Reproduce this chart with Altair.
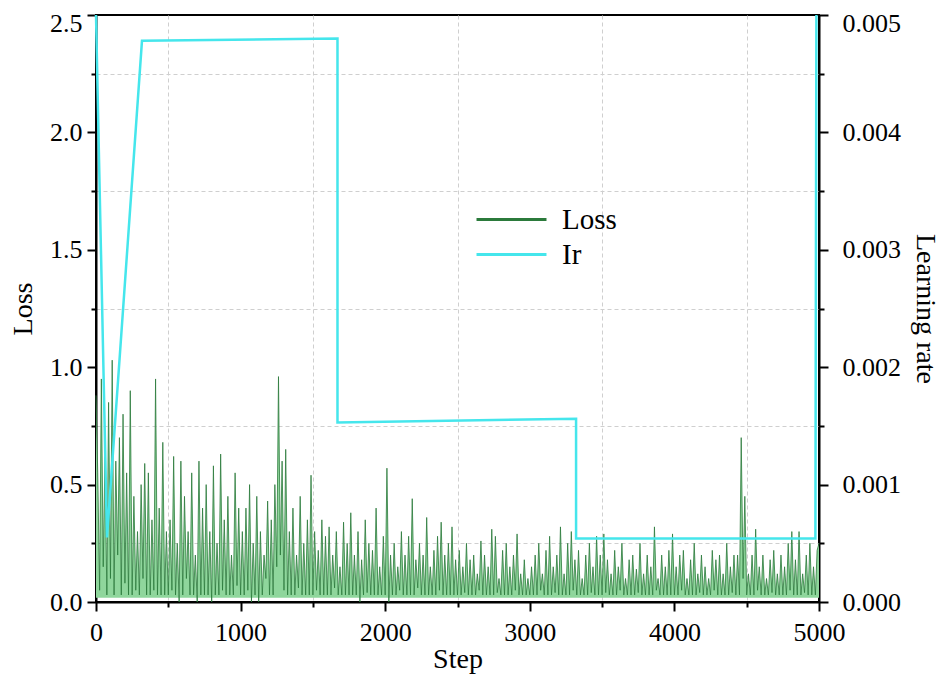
import altair as alt
import pandas as pd

# ---- data ----
peak_heights = [
    0.55, 0.95, 0.62, 0.85, 1.03, 0.60, 0.70, 0.80, 0.55, 0.90, 0.45, 0.30, 0.50, 0.59, 0.55, 0.35, 0.95, 0.40, 0.68, 0.30,
    0.35, 0.62, 0.25, 0.60, 0.45, 0.30, 0.55, 0.20, 0.60, 0.40, 0.50, 0.30, 0.58, 0.25, 0.63, 0.35, 0.45, 0.20, 0.55, 0.40,
    0.30, 0.40, 0.50, 0.25, 0.45, 0.30, 0.20, 0.43, 0.35, 0.50, 0.96, 0.60, 0.65, 0.30, 0.40, 0.20, 0.45, 0.25, 0.35, 0.54,
    0.30, 0.22, 0.35, 0.28, 0.32, 0.20, 0.30, 0.15, 0.34, 0.25, 0.38, 0.20, 0.30, 0.18, 0.35, 0.25, 0.22, 0.40, 0.15, 0.28,
    0.57, 0.20, 0.25, 0.15, 0.30, 0.20, 0.28, 0.44, 0.18, 0.25, 0.20, 0.36, 0.15, 0.22, 0.28, 0.34, 0.20, 0.25, 0.32, 0.18,
    0.22, 0.15, 0.25, 0.18, 0.20, 0.12, 0.26, 0.20, 0.15, 0.31, 0.28, 0.10, 0.22, 0.25, 0.15, 0.20, 0.29, 0.12, 0.18, 0.10,
    0.15, 0.20, 0.25, 0.12, 0.22, 0.28, 0.15, 0.20, 0.32, 0.12, 0.25, 0.30, 0.18, 0.22, 0.10, 0.20, 0.25, 0.15, 0.28, 0.20,
    0.29, 0.18, 0.12, 0.22, 0.15, 0.25, 0.10, 0.18, 0.20, 0.14, 0.25, 0.12, 0.20, 0.15, 0.32, 0.10, 0.20, 0.15, 0.22, 0.29,
    0.15, 0.20, 0.22, 0.10, 0.18, 0.25, 0.12, 0.20, 0.15, 0.10, 0.22, 0.18, 0.20, 0.12, 0.25, 0.15, 0.20, 0.20, 0.70, 0.45,
    0.12, 0.20, 0.31, 0.15, 0.20, 0.10, 0.18, 0.22, 0.12, 0.20, 0.15, 0.25, 0.30, 0.18, 0.30, 0.12, 0.20, 0.25, 0.15, 0.22,
]
valley_heights = [
    0.88, 0.05, 0.15, 0.03, 0.10, 0.03, 0.20, 0.03, 0.08, 0.03, 0.03, 0.05, 0.03, 0.10, 0.03, 0.03, 0.05, 0.03, 0.03, 0.03,
    0.03, 0.05, 0.03, 0.00, 0.03, 0.10, 0.03, 0.03, 0.00, 0.03, 0.03, 0.03, 0.00, 0.03, 0.03, 0.05, 0.03, 0.03, 0.03, 0.07,
    0.03, 0.03, 0.05, 0.00, 0.03, 0.00, 0.03, 0.10, 0.03, 0.03, 0.15, 0.20, 0.05, 0.03, 0.03, 0.03, 0.06, 0.03, 0.03, 0.03,
    0.03, 0.05, 0.03, 0.03, 0.03, 0.03, 0.06, 0.03, 0.03, 0.03, 0.03, 0.03, 0.03, 0.00, 0.03, 0.04, 0.03, 0.03, 0.03, 0.03,
    0.03, 0.00, 0.03, 0.03, 0.05, 0.03, 0.03, 0.03, 0.03, 0.06, 0.03, 0.03, 0.03, 0.03, 0.03, 0.05, 0.03, 0.03, 0.03, 0.03,
    0.03, 0.03, 0.04, 0.03, 0.03, 0.03, 0.05, 0.03, 0.03, 0.03, 0.03, 0.04, 0.03, 0.03, 0.03, 0.03, 0.05, 0.03, 0.03, 0.03,
    0.03, 0.03, 0.03, 0.05, 0.03, 0.03, 0.03, 0.04, 0.03, 0.03, 0.03, 0.03, 0.05, 0.03, 0.03, 0.03, 0.03, 0.04, 0.03, 0.03,
    0.03, 0.04, 0.03, 0.03, 0.03, 0.05, 0.03, 0.03, 0.03, 0.03, 0.04, 0.03, 0.03, 0.03, 0.03, 0.05, 0.03, 0.03, 0.03, 0.03,
    0.03, 0.03, 0.05, 0.03, 0.03, 0.03, 0.03, 0.04, 0.03, 0.03, 0.03, 0.05, 0.03, 0.03, 0.03, 0.03, 0.04, 0.03, 0.03, 0.10,
    0.03, 0.03, 0.03, 0.05, 0.03, 0.03, 0.03, 0.04, 0.03, 0.03, 0.03, 0.03, 0.05, 0.03, 0.03, 0.03, 0.04, 0.03, 0.03, 0.03,
    0.25,
]
step_gap = 25  # one spike every 25 steps

lr_steps = [0, 76, 318, 1670, 1670, 3320, 3320, 4975, 4982]
lr_values = [0.0050, 0.00055, 0.00478, 0.00480, 0.00153, 0.00156, 0.00054, 0.00054, 0.0050]

series_names = ["Loss", "Ir"]
x_ticks = [0, 500, 1000, 1500, 2000, 2500, 3000, 3500, 4000, 4500, 5000]
loss_ticks = [0.0, 0.25, 0.5, 0.75, 1.0, 1.25, 1.5, 1.75, 2.0, 2.25, 2.5]
lr_ticks = [0.0, 0.0005, 0.001, 0.0015, 0.002, 0.0025, 0.003, 0.0035, 0.004, 0.0045, 0.005]

# ---- tables ----
rows = []
for i, v in enumerate(valley_heights):
    rows.append({"step": i * step_gap, "loss": v})
    if i < len(peak_heights):
        rows.append({"step": i * step_gap + step_gap // 2, "loss": peak_heights[i]})
loss_df = pd.DataFrame(rows)
loss_df["series"] = "Loss"

lr_df = pd.DataFrame({"step": lr_steps, "lr": lr_values, "order": list(range(len(lr_steps)))})
lr_df["series"] = "Ir"

FONT = "Liberation Serif"
GREEN_LINE = "#2b7a3b"
GREEN_FILL = "#8fd69c"
CYAN = "#45e6ec"

common_axis = dict(
    tickColor="black", tickWidth=2, domainColor="black", domainWidth=2,
    labelFont=FONT, labelFontSize=26, labelColor="black",
    titleFont=FONT, titleFontSize=28, titleFontWeight="normal", titleColor="black",
)

x_enc = alt.X(
    "step:Q",
    scale=alt.Scale(domain=[0, 5000], nice=False, zero=False),
    axis=alt.Axis(
        values=x_ticks, format="d",
        labelExpr="datum.value % 1000 === 0 ? datum.label : ''",
        tickSize={"condition": {"test": "datum.value % 1000 === 0", "value": 9}, "value": 5},
        grid=True, gridColor="#cfcfcf", gridDash=[4, 3], gridWidth=1,
        gridOpacity={"condition": {"test": "datum.value % 1000 !== 0", "value": 1}, "value": 0},
        labelPadding=8, titlePadding=0, title="Step", labelFlush=False,
        **common_axis,
    ),
)

y_loss = alt.Y(
    "loss:Q",
    scale=alt.Scale(domain=[0, 2.5], nice=False),
    axis=alt.Axis(
        orient="left", values=loss_ticks,
        labelExpr="round(datum.value * 4) % 2 === 0 ? format(datum.value, '.1f') : ''",
        tickSize={"condition": {"test": "round(datum.value * 4) % 2 === 0", "value": 9}, "value": 5},
        labelOffset={"condition": {"test": "datum.value >= 2.5", "value": 8}, "value": 0},
        grid=True, gridColor="#cfcfcf", gridDash=[4, 3], gridWidth=1,
        gridOpacity={"condition": {"test": "round(datum.value * 4) % 2 !== 0", "value": 1}, "value": 0},
        labelPadding=5, titlePadding=12, title="Loss", labelFlush=False,
        **common_axis,
    ),
)

y_lr = alt.Y(
    "lr:Q",
    scale=alt.Scale(domain=[0, 0.005], nice=False),
    axis=alt.Axis(
        orient="right", values=lr_ticks,
        labelExpr="round(datum.value * 2000) % 2 === 0 ? format(datum.value, '.3f') : ''",
        tickSize={"condition": {"test": "round(datum.value * 2000) % 2 === 0", "value": 9}, "value": 5},
        labelOffset={"condition": {"test": "datum.value >= 0.005", "value": 8}, "value": 0},
        grid=False, labelPadding=14, titlePadding=10, title="Learning rate", labelFlush=False,
        **common_axis,
    ),
)

color_enc = alt.Color(
    "series:N",
    scale=alt.Scale(domain=series_names, range=[GREEN_LINE, CYAN]),
    legend=alt.Legend(
        title=None, orient="none", legendX=401, legendY=190, padding=0,
        symbolType="M-3,0H3", symbolSize=544, symbolStrokeWidth=3,
        labelFont=FONT, labelFontSize=29, labelColor="black", labelOffset=36,
        rowPadding=5,
    ),
)

lr_line = alt.Chart(lr_df).mark_line(strokeWidth=2.5).encode(
    x=x_enc, y=y_lr, order="order:Q", color=color_enc
)

loss_area = alt.Chart(loss_df).mark_area(color=GREEN_FILL, opacity=1).encode(
    x=x_enc, y=y_loss, y2=alt.datum(0.018)
)
loss_line = alt.Chart(loss_df).mark_line(strokeWidth=0.8).encode(
    x=x_enc, y=y_loss, color=color_enc
)

loss_layer = alt.layer(loss_area, loss_line)

chart = (
    alt.layer(loss_layer, lr_line)
    .resolve_scale(y="independent")
    .properties(
        width=723, height=587,
        autosize=alt.AutoSizeParams(type="none"),
        padding={"left": 88, "top": 7, "right": 125, "bottom": 74},
        background="white",
    )
    .configure_view(stroke="black", strokeWidth=2)
)

chart.save("out.html", embed_options={"renderer": "svg", "actions": False})
